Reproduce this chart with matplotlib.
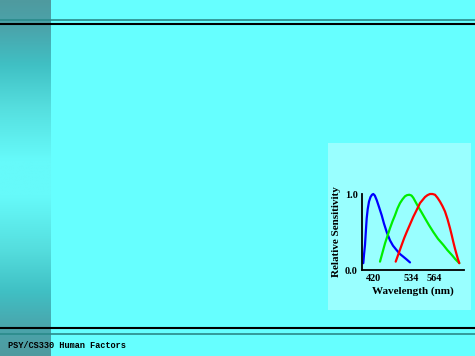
import numpy as np
import matplotlib.pyplot as plt
from matplotlib.colors import LinearSegmentedColormap
from matplotlib.patches import Rectangle

# cone sensitivity curves (x in arbitrary position units along the axis, y relative sensitivity)
blue_x = [1.3, 2, 3, 3.8, 4.7, 5.7, 7, 8.5, 10, 11.3, 12.8, 14.7, 17, 19.7, 22, 24.7,
          28, 31, 34.7, 38, 41.3, 44.5, 48]
blue_y = [0.09, 0.2, 0.33, 0.5, 0.68, 0.8, 0.90, 0.96, 0.99, 1.0, 0.98, 0.92, 0.83, 0.72,
          0.61, 0.50, 0.39, 0.32, 0.26, 0.21, 0.175, 0.14, 0.10]
green_x = [18, 20.5, 23, 25.5, 28, 30.5, 33, 35.5, 38, 40.5, 43, 45, 47.3, 49.5, 51.3, 53.8,
           56.3, 59.5, 63, 67, 71.3, 76, 81.3, 85.5, 89.7, 93.5, 97.3]
green_y = [0.11, 0.23, 0.35, 0.45, 0.55, 0.64, 0.72, 0.81, 0.88, 0.93, 0.97, 0.985, 0.99, 0.98,
           0.95, 0.89, 0.83, 0.76, 0.68, 0.59, 0.50, 0.41, 0.33, 0.26, 0.20, 0.14, 0.09]
red_x = [33.7, 36.7, 39.7, 42.2, 44.7, 48, 51.3, 54.7, 58, 60.5, 63, 65.5, 68, 70.5, 73, 75.5,
         78, 80.5, 83, 85.5, 88, 89.7, 91.3, 93, 94.7, 96, 97.3]
red_y = [0.11, 0.22, 0.33, 0.42, 0.50, 0.60, 0.70, 0.79, 0.88, 0.92, 0.96, 0.985, 1.0, 1.0,
         0.99, 0.95, 0.90, 0.84, 0.77, 0.67, 0.55, 0.46, 0.37, 0.28, 0.20, 0.14, 0.09]

tick_pos = [11, 49.5, 72]
tick_labels = ['420', '534', '564']
ytick_pos = [0.0, 1.0]
ytick_labels = ['0.0', '1.0']

# left bar gradient stops (top -> bottom)
bar_stops = [(0.0, '#4f9a9f'), (0.08, '#4aa5ac'), (0.18, '#40c0c4'), (0.3, '#55dede'),
             (0.45, '#66fafa'), (0.55, '#66fafa'), (0.7, '#55dede'), (0.82, '#40c0c4'),
             (0.92, '#4aa5ac'), (1.0, '#4f9a9f')]

W, H = 475, 356
fig = plt.figure(figsize=(W / 100, H / 100), dpi=100)
fig.patch.set_facecolor('#66ffff')

# slide background, pixel coordinates
bg = fig.add_axes([0, 0, 1, 1])
bg.set_xlim(0, W)
bg.set_ylim(H, 0)
bg.axis('off')

cmap = LinearSegmentedColormap.from_list('bar', bar_stops)
grad = np.linspace(0, 1, 256).reshape(-1, 1)
bg.imshow(grad, cmap=cmap, aspect='auto', extent=[0, 51, H, 0], interpolation='bilinear')

bg.plot([0, W], [19.5, 19.5], color='#2a8a8a', lw=1.2)
bg.plot([0, W], [23.5, 23.5], color='black', lw=1.5)
bg.plot([0, W], [327.5, 327.5], color='black', lw=1.5)
bg.plot([0, W], [333.5, 333.5], color='#2a8a8a', lw=1.2)

bg.add_patch(Rectangle((328, 143), 143, 167, facecolor='#99ffff', edgecolor='none'))

fig.text(8 / W, 1 - 345 / H, 'PSY/CS330 Human Factors', family='Liberation Mono',
         fontsize=6.2, fontweight='bold', va='center', ha='left', color='black')

# the chart
ax = fig.add_axes([362 / W, 1 - 270 / H, 102 / W, 76 / H])
ax.patch.set_alpha(0)
for xs, ys, c in [(blue_x, blue_y, '#0000ff'), (green_x, green_y, '#00ee00'),
                  (red_x, red_y, '#ff0000')]:
    ax.plot(xs, ys, color=c, lw=1.6, clip_on=False, solid_joinstyle='round',
            solid_capstyle='round')
ax.set_xlim(0, 102)
ax.set_ylim(0, 1.0)
for s in ['top', 'right']:
    ax.spines[s].set_visible(False)
for s in ['left', 'bottom']:
    ax.spines[s].set_linewidth(1.3)
ax.set_xticks(tick_pos)
ax.set_xticklabels(tick_labels, family='Liberation Serif', fontweight='bold', fontsize=7.3)
ax.set_yticks(ytick_pos)
ax.set_yticklabels(ytick_labels, family='Liberation Serif', fontweight='bold', fontsize=7.3)
ax.tick_params(length=0, pad=3)
ax.set_xlabel('Wavelength (nm)', family='Liberation Serif', fontweight='bold', fontsize=8, labelpad=2)
ax.set_ylabel('Relative Sensitivity', family='Liberation Serif', fontweight='bold', fontsize=8, labelpad=3)

fig.savefig('out.png', dpi=100)
